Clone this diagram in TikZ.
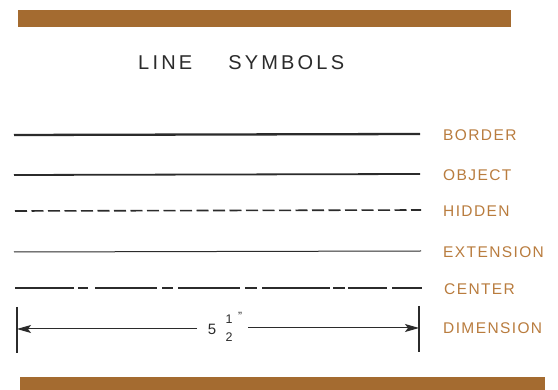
\documentclass[tikz,border=0pt]{standalone}
\usepackage{fontspec}
\setmainfont{Liberation Sans}
\newfontfamily\titlefont[LetterSpace=16]{Liberation Sans}
\newfontfamily\labfont[LetterSpace=9]{Liberation Sans}
\usetikzlibrary{arrows.meta}
\definecolor{barbrown}{HTML}{A46B30}
\definecolor{labbrown}{HTML}{B97C3E}
\definecolor{ink}{HTML}{2B2B2B}
\tikzset{
  bar/.style={fill=barbrown, draw=none},
  lab/.style={anchor=west, inner sep=0pt, text=labbrown, font=\labfont\fontsize{15.5}{16}\selectfont},
  ln/.style={draw=ink, line cap=butt},
  dimtxt/.style={inner sep=0pt, text=ink},
  arr/.style={-{Stealth[length=14pt,width=8pt,inset=3pt]}}
}
\begin{document}
\begin{tikzpicture}[x=1pt,y=-1pt]
\useasboundingbox (0,0) rectangle (558,390);
\fill[white] (0,0) rectangle (558,390);
% bars
\path[bar] (18,10) rectangle (511,27);
\path[bar] (20,377) rectangle (545,390);
% title
\node[anchor=west, inner sep=0pt, text=ink, font=\titlefont\fontsize{20}{22}\selectfont] (title) at (138,63) {LINE\hspace{36pt}SYMBOLS};
% line end coordinates
\coordinate (b1) at (14,135); \coordinate (b2) at (420,134);
\coordinate (o1) at (14,175); \coordinate (o2) at (420,174);
\coordinate (h1) at (15,211); \coordinate (h2) at (421,210);
\coordinate (e1) at (14,252); \coordinate (e2) at (421,251);
% border
\draw[ln, line width=2.3pt] (b1) -- (b2);
% object
\draw[ln, line width=1.8pt] (o1) -- (o2);
% hidden
\draw[ln, line width=1.6pt, dash pattern=on 12pt off 4.5pt] (h1) -- (h2);
% extension
\draw[ln, line width=1pt] (e1) -- (e2);
% center line segments
\draw[ln, line width=1.2pt] (15,288) -- (74,288) (78,288) -- (88,288) (95,288) -- (157,288)
  (162,288) -- (173,288) (178,288) -- (240,288) (245,288) -- (257,288)
  (262,288) -- (330,288) (333,288) -- (345,288) (348,288) -- (387,288) (392,288) -- (422,288);
% dimension
\coordinate (dl) at (17,329); \coordinate (dr) at (419,328);
\draw[ln, line width=1.3pt] (17,307) -- (17,353);
\draw[ln, line width=1.3pt] (419,306) -- (419,352);
\node[dimtxt, font=\fontsize{15}{16}\selectfont] (five) at (212,329) {5};
\node[dimtxt, font=\fontsize{12.5}{13}\selectfont] (num) at (229,319) {1};
\node[dimtxt, font=\fontsize{12.5}{13}\selectfont] (den) at (229,337) {2};
\node[dimtxt, font=\fontsize{12}{13}\selectfont] (inch) at (240,316) {"};
\coordinate (gl) at (197,329); \coordinate (gr) at (248,328);
\draw[ln, line width=1pt, arr] (gl) -- (dl);
\draw[ln, line width=1pt, arr] (gr) -- (dr);
% labels
\node[lab] (lborder) at (443,135) {BORDER};
\node[lab] (lobject) at (443,175) {OBJECT};
\node[lab] (lhidden) at (443,211) {HIDDEN};
\node[lab] (lext) at (443,252) {EXTENSION};
\node[lab] (lcenter) at (444,289) {CENTER};
\node[lab] (ldim) at (443,328) {DIMENSION};
\end{tikzpicture}
\end{document}
